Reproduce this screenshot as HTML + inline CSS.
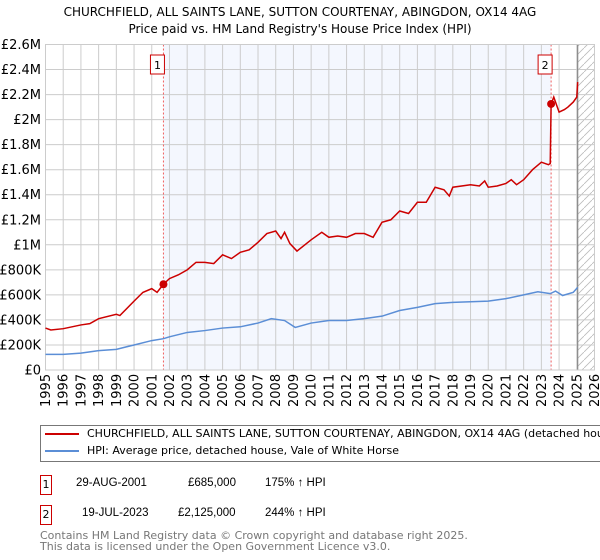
<!DOCTYPE html>
<html><head><meta charset="utf-8"><style>
body{margin:0;width:600px;height:560px;background:#fff;font-family:"DejaVu Sans","Liberation Sans",sans-serif;overflow:hidden;position:relative}
svg{position:absolute;left:0;top:0}
.t{position:absolute;font-size:11px;color:#000;white-space:nowrap}
.tb{font-family:"Liberation Sans",sans-serif;font-size:11.5px}
</style></head><body>
<svg id="c" width="600" height="560"></svg>
<div class="t" style="left:0;width:600px;text-align:center;top:5px;font-size:12px">CHURCHFIELD, ALL SAINTS LANE, SUTTON COURTENAY, ABINGDON, OX14 4AG</div>
<div class="t" style="left:0;width:600px;text-align:center;top:22px;font-size:12px">Price paid vs. HM Land Registry's House Price Index (HPI)</div>
<div style="position:absolute;left:40px;top:425px;width:570px;height:35px;border:1px solid #777"></div>
<div style="position:absolute;left:45px;top:433px;width:34px;height:2px;background:#cc0000"></div>
<div class="t" style="left:87px;top:427px">CHURCHFIELD, ALL SAINTS LANE, SUTTON COURTENAY, ABINGDON, OX14 4AG (detached house)</div>
<div style="position:absolute;left:45px;top:450px;width:34px;height:2px;background:#5b8ed6"></div>
<div class="t" style="left:87px;top:444px">HPI: Average price, detached house, Vale of White Horse</div>
<div class="t" style="left:40px;top:475px;width:10px;height:18px;border:1px solid #cc0000;text-align:center;line-height:18px">1</div>
<div class="t tb" style="left:76px;top:477px">29-AUG-2001</div>
<div class="t tb" style="left:188px;top:477px">£685,000</div>
<div class="t tb" style="left:265px;top:477px">175% ↑ HPI</div>
<div class="t" style="left:40px;top:505px;width:10px;height:18px;border:1px solid #cc0000;text-align:center;line-height:18px">2</div>
<div class="t tb" style="left:82px;top:507px">19-JUL-2023</div>
<div class="t tb" style="left:178px;top:507px">£2,125,000</div>
<div class="t tb" style="left:265px;top:507px">244% ↑ HPI</div>
<div class="t" style="left:40px;top:530px;color:#777;line-height:11px;font-size:11px">Contains HM Land Registry data © Crown copyright and database right 2025.<br>This data is licensed under the Open Government Licence v3.0.</div>
<script>
const yTicks=[0,200,400,600,800,1000,1200,1400,1600,1800,2000,2200,2400,2600];
const yLabels=["£0","£200K","£400K","£600K","£800K","£1M","£1.2M","£1.4M","£1.6M","£1.8M","£2M","£2.2M","£2.4M","£2.6M"];
const years=[1995,1996,1997,1998,1999,2000,2001,2002,2003,2004,2005,2006,2007,2008,2009,2010,2011,2012,2013,2014,2015,2016,2017,2018,2019,2020,2021,2022,2023,2024,2025,2026];
const hpiT=[1995,1996,1997,1998,1999,2000,2001,2001.66,2002,2003,2004,2005,2006,2007,2007.75,2008.5,2009.1,2010,2011,2012,2013,2014,2015,2016,2017,2018,2019,2020,2021,2022,2022.8,2023.5,2023.8,2024.2,2024.8,2025.05];
const hpiV=[125,125,135,155,165,200,235,250,265,300,315,335,345,375,410,395,340,375,395,395,410,430,475,500,530,540,545,550,570,600,625,610,630,595,620,660];
const priceT=[1995,1995.3,1996,1997,1997.5,1998,1999,1999.2,2000,2000.5,2001,2001.3,2001.66,2002,2002.5,2003,2003.5,2004,2004.5,2005,2005.5,2006,2006.5,2007,2007.5,2008,2008.3,2008.5,2008.8,2009.2,2010,2010.6,2011,2011.5,2012,2012.5,2013,2013.5,2014,2014.5,2015,2015.5,2016,2016.5,2017,2017.5,2017.8,2018,2019,2019.5,2019.8,2020,2020.5,2021,2021.3,2021.6,2022,2022.5,2023,2023.4,2023.5,2023.55,2023.7,2024,2024.3,2024.5,2024.8,2025,2025.05];
const priceV=[335,320,330,360,370,410,445,435,550,620,650,620,685,730,760,800,860,860,850,920,890,940,960,1020,1090,1110,1050,1100,1010,950,1040,1100,1060,1070,1060,1090,1090,1060,1180,1200,1270,1250,1340,1340,1460,1440,1390,1460,1480,1470,1510,1460,1470,1490,1520,1480,1520,1600,1660,1640,1650,2125,2180,2060,2080,2100,2140,2180,2300];
const saleT=[2001.66,2023.55];
const saleV=[685,2125];
const L=45.5,R=594.5,T=44.5,B=370;
const X=t=>L+(t-1995)*(R-L)/31, Y=v=>B-v*(B-T)/2600;
const s=document.getElementById('c'),NS='http://www.w3.org/2000/svg';
function el(n,a,p){const e=document.createElementNS(NS,n);for(const k in a)e.setAttribute(k,a[k]);(p||s).appendChild(e);return e;}
let d=el('defs',{});let pt=el('pattern',{id:'h',width:8,height:8,patternUnits:'userSpaceOnUse'},d);el('path',{d:'M0 8L8 0',stroke:'#bbb','stroke-width':0.8},pt);
let sh=el('rect',{x:X(saleT[0]),y:T,width:X(saleT[1])-X(saleT[0]),height:B-T,fill:'#f4f7fe'});

let ht=el('rect',{x:X(2025.05),y:T,width:R-X(2025.05),height:B-T,fill:'url(#h)'});

yTicks.forEach((v,i)=>{let g=el('line',{x1:L,x2:R,y1:Y(v),y2:Y(v),stroke:'#ccc'});
let t=el('text',{x:41,y:Y(v)+4.5,'text-anchor':'end','font-size':13,fill:'#000'});t.textContent=yLabels[i];});
years.forEach(y=>{let g=el('line',{x1:X(y),x2:X(y),y1:T,y2:B,stroke:'#ccc'});
let t=el('text',{transform:`translate(${X(y)+4.5},${B+37}) rotate(-90)`,'font-size':13,fill:'#000'});t.textContent=y;});
let vl=el('line',{x1:X(2025.05),x2:X(2025.05),y1:T,y2:B,stroke:'#888','stroke-width':1.2});
saleT.forEach((t,i)=>{let l=el('line',{x1:X(t),x2:X(t),y1:T,y2:B,stroke:'#f06060','stroke-dasharray':'2,2'});
let r=el('rect',{x:X(t)-13,y:55,width:14,height:19,fill:'#fff',stroke:'#cc0000'});
let tx=el('text',{x:X(t)-6,y:69,'text-anchor':'middle','font-size':11});tx.textContent=String(i+1);});
el('rect',{x:L,y:T,width:R-L,height:B-T,fill:'none',stroke:'#ccc'});
let hp=el('polyline',{points:hpiT.map((t,i)=>X(t)+','+Y(hpiV[i])).join(' '),fill:'none',stroke:'#5b8ed6','stroke-width':1.5});

let pl=el('polyline',{points:priceT.map((t,i)=>X(t)+','+Y(priceV[i])).join(' '),fill:'none',stroke:'#cc0000','stroke-width':1.5});

saleT.forEach((t,i)=>{let c=el('circle',{cx:X(t),cy:Y(saleV[i]),r:4,fill:'#cc0000'});});
</script>
</body></html>
